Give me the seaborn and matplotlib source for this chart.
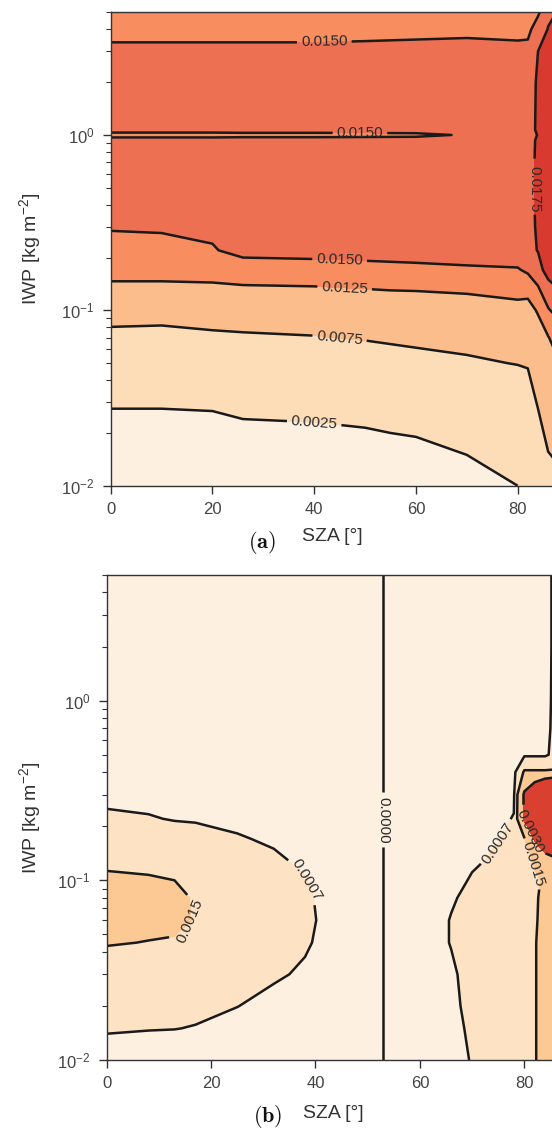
import matplotlib
matplotlib.use("Agg")
import matplotlib.pyplot as plt
import numpy as np
import seaborn as sns

# ---------------- panel (a) ----------------
sza_a = [0, 10, 20, 26, 40, 50, 60, 70, 80, 82, 84, 86, 87]
iwp_a = [0.01, 0.015, 0.02, 0.03, 0.05, 0.07, 0.1, 0.13, 0.17, 0.22, 0.3, 0.5,
         0.93, 1.0, 1.07, 2, 3, 4, 5]
# one list per SZA column, values from low to high IWP
field_a = [
    [0.0012, 0.0016, 0.0019, 0.0027, 0.0050, 0.0068, 0.0088, 0.0118, 0.0135, 0.0142, 0.0152, 0.0163, 0.0162, 0.0140, 0.0162, 0.0160, 0.0153, 0.0145, 0.0140],
    [0.0012, 0.0016, 0.0019, 0.0027, 0.0050, 0.0067, 0.0087, 0.0118, 0.0135, 0.0143, 0.0153, 0.0163, 0.0162, 0.0140, 0.0162, 0.0160, 0.0153, 0.0145, 0.0140],
    [0.0012, 0.0016, 0.0019, 0.0028, 0.0052, 0.0071, 0.0088, 0.0119, 0.0136, 0.0148, 0.0156, 0.0163, 0.0162, 0.0140, 0.0162, 0.0160, 0.0153, 0.0145, 0.0140],
    [0.0013, 0.0017, 0.0021, 0.0031, 0.0054, 0.0072, 0.0090, 0.0121, 0.0138, 0.0158, 0.0162, 0.0165, 0.0163, 0.0141, 0.0163, 0.0161, 0.0153, 0.0145, 0.0140],
    [0.0014, 0.0018, 0.0022, 0.0032, 0.0056, 0.0074, 0.0091, 0.0122, 0.0139, 0.0160, 0.0163, 0.0165, 0.0163, 0.0141, 0.0163, 0.0161, 0.0153, 0.0145, 0.0140],
    [0.0015, 0.0019, 0.00235, 0.0034, 0.0062, 0.0077, 0.0093, 0.0124, 0.0140, 0.0163, 0.0164, 0.0165, 0.0163, 0.0142, 0.0163, 0.0161, 0.0153, 0.0146, 0.0140],
    [0.0017, 0.0019, 0.00265, 0.0040, 0.0066, 0.0082, 0.0098, 0.0126, 0.0143, 0.0164, 0.0165, 0.0166, 0.0164, 0.0143, 0.0164, 0.0162, 0.0154, 0.0146, 0.0141],
    [0.0017, 0.0025, 0.0033, 0.0047, 0.0071, 0.0085, 0.0104, 0.0130, 0.0146, 0.0165, 0.0166, 0.0167, 0.0165, 0.0153, 0.0165, 0.0163, 0.0154, 0.0147, 0.0142],
    [0.0025, 0.0035, 0.0042, 0.0058, 0.0076, 0.0090, 0.0112, 0.0138, 0.0148, 0.0166, 0.0167, 0.0168, 0.0166, 0.0160, 0.0166, 0.0164, 0.0155, 0.0144, 0.0140],
    [0.0030, 0.0040, 0.0047, 0.0060, 0.0078, 0.0093, 0.0114, 0.0134, 0.0154, 0.0168, 0.0170, 0.0172, 0.0170, 0.0166, 0.0170, 0.0168, 0.0156, 0.0144, 0.0140],
    [0.0045, 0.0058, 0.0066, 0.0078, 0.0098, 0.0112, 0.0128, 0.0146, 0.0166, 0.0176, 0.0177, 0.0177, 0.0177, 0.0176, 0.0177, 0.0177, 0.0175, 0.0162, 0.0146],
    [0.0065, 0.0074, 0.0082, 0.0096, 0.0112, 0.0124, 0.0148, 0.0165, 0.0185, 0.0188, 0.0190, 0.0190, 0.0190, 0.0190, 0.0190, 0.0188, 0.0184, 0.0176, 0.0170],
    [0.0068, 0.0076, 0.0088, 0.0102, 0.0118, 0.0130, 0.0153, 0.0170, 0.0188, 0.0190, 0.0192, 0.0192, 0.0192, 0.0192, 0.0192, 0.0190, 0.0186, 0.0179, 0.0173],
]
bounds_a = [0.0, 0.0025, 0.0075, 0.0125, 0.0150, 0.0175, 0.0210]
levels_a = [0.0025, 0.0075, 0.0125, 0.0150, 0.0175]
colors_a = ["#fdf0e0", "#fddcb8", "#fbbd8c", "#f88d60", "#ee7052", "#d83a2f"]
labels_a = [(42, 3.35), (49, 1.0), (83.4, 0.49), (45, 0.19), (46, 0.135), (45, 0.07), (40, 0.0228)]

# ---------------- panel (b) ----------------
sza_b = [0, 8, 13, 17, 25, 32, 38, 41, 47, 53, 58, 63, 66, 70, 74, 78, 80, 82, 84, 86, 87]
iwp_b = [0.01, 0.015, 0.02, 0.03, 0.045, 0.06, 0.08, 0.1, 0.13, 0.17, 0.22, 0.3,
         0.4, 0.5, 0.7, 1, 2, 5]
field_b = [
    [0.0005, 0.00075, 0.0009, 0.00115, 0.00155, 0.0018, 0.0018, 0.00165, 0.0013, 0.0011, 0.00082, 0.0005, 0.0003, 0.00025, 0.0002, 0.0002, 0.0002, 0.0002],
    [0.00048, 0.00072, 0.00088, 0.00112, 0.00148, 0.00172, 0.00172, 0.00158, 0.00125, 0.00105, 0.00075, 0.00045, 0.0003, 0.00025, 0.0002, 0.0002, 0.0002, 0.0002],
    [0.00046, 0.00071, 0.00086, 0.0011, 0.00145, 0.00165, 0.00165, 0.0015, 0.0012, 0.001, 0.00066, 0.00042, 0.0003, 0.00025, 0.0002, 0.0002, 0.0002, 0.0002],
    [0.00045, 0.00068, 0.00082, 0.00105, 0.0013, 0.00146, 0.00144, 0.0013, 0.00112, 0.00092, 0.00064, 0.0004, 0.0003, 0.00025, 0.0002, 0.0002, 0.0002, 0.0002],
    [0.0004, 0.00055, 0.00071, 0.0009, 0.0011, 0.0012, 0.0012, 0.0011, 0.00095, 0.00075, 0.00055, 0.00035, 0.00025, 0.0002, 0.0002, 0.0002, 0.0002, 0.0002],
    [0.00032, 0.00042, 0.00055, 0.00078, 0.00092, 0.001, 0.001, 0.00092, 0.00078, 0.00062, 0.00048, 0.00032, 0.00025, 0.0002, 0.0002, 0.0002, 0.0002, 0.0002],
    [0.00025, 0.00033, 0.0004, 0.00062, 0.00078, 0.00085, 0.00082, 0.00072, 0.0006, 0.0005, 0.0004, 0.0003, 0.00022, 0.0002, 0.0002, 0.0002, 0.0002, 0.0002],
    [0.0002, 0.00026, 0.0003, 0.00045, 0.0006, 0.00064, 0.0006, 0.00055, 0.00048, 0.0004, 0.00032, 0.00025, 0.0002, 0.00018, 0.00018, 0.00018, 0.00018, 0.00018],
    [0.0001, 0.00012, 0.00014, 0.0002, 0.00025, 0.00028, 0.00026, 0.00024, 0.0002, 0.00018, 0.00015, 0.00012, 0.0001, 0.0001, 0.0001, 0.0001, 0.0001, 0.0001],
    [0.0, 0.0, 0.0, 0.0, 0.0, 0.0, 0.0, 0.0, 0.0, 0.0, 0.0, 0.0, 0.0, 0.0, 0.0, 0.0, 0.0, 0.0],
    [0.00025, 0.00025, 0.00026, 0.00027, 0.0003, 0.0003, 0.00028, 0.00024, 0.0002, 0.00018, 0.00016, 0.00014, 0.00012, 0.00012, 0.0001, 0.0001, 0.0001, 0.0001],
    [0.00045, 0.00048, 0.0005, 0.00052, 0.00058, 0.00058, 0.00052, 0.00045, 0.0004, 0.00035, 0.0003, 0.00028, 0.00025, 0.00025, 0.00022, 0.0002, 0.0002, 0.0002],
    [0.00058, 0.0006, 0.00062, 0.00064, 0.00072, 0.00072, 0.00065, 0.00056, 0.0005, 0.00044, 0.00038, 0.00034, 0.0003, 0.0003, 0.00026, 0.00024, 0.00022, 0.00022],
    [0.00072, 0.00076, 0.0008, 0.00084, 0.0009, 0.0009, 0.00082, 0.00074, 0.00063, 0.00055, 0.00048, 0.00044, 0.0004, 0.00038, 0.00032, 0.00028, 0.00025, 0.00025],
    [0.00092, 0.00094, 0.00096, 0.00098, 0.001, 0.001, 0.00095, 0.00088, 0.00074, 0.00066, 0.00058, 0.0005, 0.00045, 0.00042, 0.00035, 0.0003, 0.00028, 0.00028],
    [0.00114, 0.00116, 0.00118, 0.0012, 0.00125, 0.00125, 0.0012, 0.0011, 0.00095, 0.00075, 0.00072, 0.00062, 0.00055, 0.0005, 0.0004, 0.00034, 0.0003, 0.0003],
    [0.0012, 0.0012, 0.0012, 0.00125, 0.0013, 0.0013, 0.00128, 0.00125, 0.0012, 0.0014, 0.0032, 0.0032, 0.0016, 0.0006, 0.0005, 0.00045, 0.0004, 0.0004],
    [0.00145, 0.00145, 0.00145, 0.00145, 0.00145, 0.00143, 0.0014, 0.00138, 0.0016, 0.0032, 0.0045, 0.0045, 0.0016, 0.0006, 0.0005, 0.00045, 0.0004, 0.0004],
    [0.0018, 0.0018, 0.0018, 0.0018, 0.0018, 0.0017, 0.0017, 0.0016, 0.0024, 0.0045, 0.006, 0.006, 0.0016, 0.0006, 0.0005, 0.00045, 0.0004, 0.0004],
    [0.0021, 0.0021, 0.0021, 0.0021, 0.0021, 0.002, 0.002, 0.002, 0.0028, 0.005, 0.007, 0.007, 0.0016, 0.0009, 0.0009, 0.0009, 0.0009, 0.0009],
    [0.0023, 0.0023, 0.0023, 0.0023, 0.0023, 0.0022, 0.0022, 0.0022, 0.003, 0.0055, 0.0075, 0.0075, 0.0017, 0.001, 0.001, 0.001, 0.001, 0.001],
]
sza_zero = 53  # the difference changes sign at this angle
bounds_b = [0.0, 0.0007, 0.0015, 0.0030, 0.0100]
levels_b = [0.0007, 0.0015, 0.0030]
colors_b = ["#fdf0e0", "#fde3c4", "#fcc995", "#d9402f"]
labels_b = [(38.2, 0.1), (16.8, 0.056), (75.8, 0.153), (82.6, 0.125), (81.5, 0.19)]
label_zero_b = [(53, 0.217)]

sns.set_theme(style="ticks", rc={
    "axes.edgecolor": "#333333",
    "axes.linewidth": 1.0,
    "xtick.color": "#333333",
    "ytick.color": "#333333",
    "text.color": "#333333",
    "axes.labelcolor": "#333333",
})
plt.rcParams["font.family"] = ["Liberation Sans", "DejaVu Sans"]


def style_axes(ax, label_x, label_y):
    ax.set_yscale("log")
    ax.set_xlim(0, 87)
    ax.set_ylim(0.01, 5)
    ax.set_xticks([0, 20, 40, 60, 80])
    ax.tick_params(which="major", length=5.5, width=1.0, pad=6, labelsize=12,
                   labelcolor="#444444")
    ax.tick_params(which="minor", length=3.5, width=0.8)
    ax.tick_params(axis="x", which="minor", bottom=False)
    ax.set_xlabel("SZA [°]", fontsize=14)
    ax.set_ylabel("IWP [kg m$\\mathregular{^{-2}}$]", fontsize=14)
    ax.xaxis.set_label_coords(0.5, label_x)
    ax.yaxis.set_label_coords(label_y, 0.5)


fig = plt.figure(figsize=(5.52, 11.36), dpi=100)
ax_a = fig.add_axes([0.2005, 0.5724, 0.8018, 0.4167])
ax_b = fig.add_axes([0.1933, 0.0669, 0.8227, 0.4269])

# (a)
Xa, Ya = np.meshgrid(sza_a, iwp_a)
Za = np.array(field_a).T
style_axes(ax_a, -0.09, -0.153)
ax_a.contourf(Xa, Ya, Za, levels=bounds_a, colors=colors_a)
cs_a = ax_a.contour(Xa, Ya, Za, levels=levels_a, colors="k", linewidths=1.8)
ax_a.clabel(cs_a, fmt="%.4f", fontsize=11, colors="#2a2a2a", manual=labels_a,
            inline_spacing=4)

# (b)
Xb, Yb = np.meshgrid(sza_b, iwp_b)
Zb = np.array(field_b).T
signed_b = np.where(Xb < sza_zero, Zb, -Zb)
style_axes(ax_b, -0.0928, -0.140)
ax_b.contourf(Xb, Yb, Zb, levels=bounds_b, colors=colors_b)
cs_b = ax_b.contour(Xb, Yb, Zb, levels=levels_b, colors="k", linewidths=1.8)
cs_zero = ax_b.contour(Xb, Yb, signed_b, levels=[0.0], colors="k", linewidths=1.8)
ax_b.clabel(cs_b, fmt="%.4f", fontsize=11, colors="#2a2a2a", manual=labels_b,
            inline_spacing=4)
ax_b.clabel(cs_zero, fmt="%.4f", fontsize=11, colors="#2a2a2a", manual=label_zero_b,
            inline_spacing=4)

fig.text(262 / 552, 1 - 543 / 1136, r"$\mathbf{(a)}$", math_fontfamily="cm",
         fontsize=16, ha="center", va="center", color="#111111")
fig.text(268 / 552, 1 - 1117 / 1136, r"$\mathbf{(b)}$", math_fontfamily="cm",
         fontsize=16, ha="center", va="center", color="#111111")

fig.savefig("out.png", dpi=100)
